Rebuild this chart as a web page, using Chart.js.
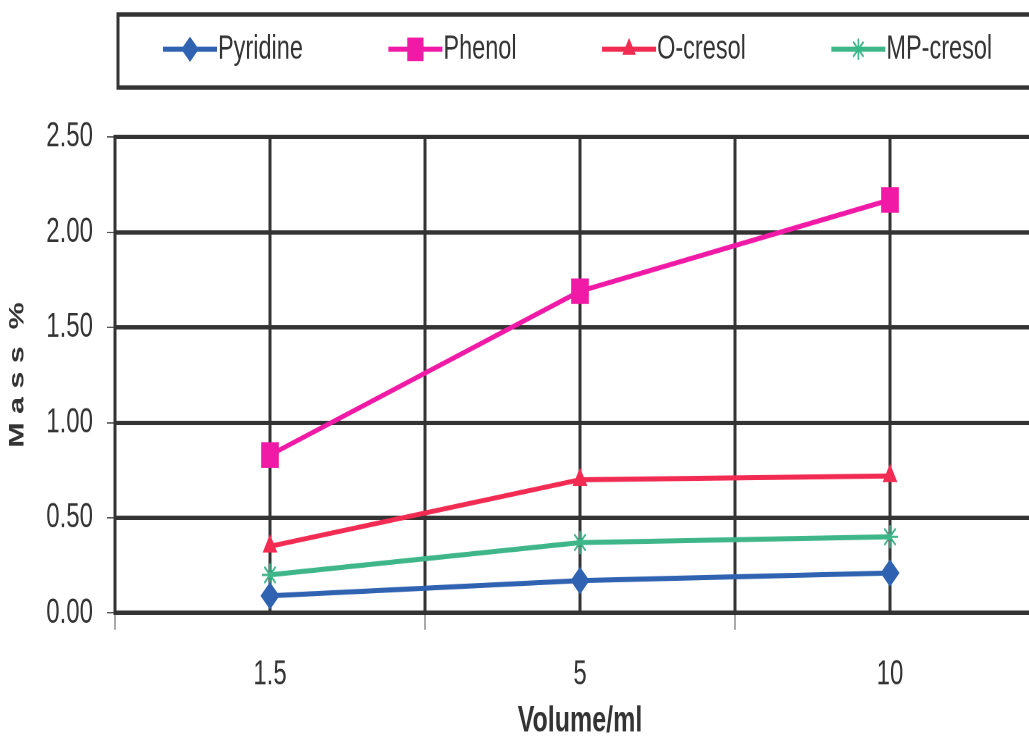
<!DOCTYPE html>
<html>
<head>
<meta charset="utf-8">
<script src="https://cdn.jsdelivr.net/npm/chart.js@4.4.1/dist/chart.umd.min.js"></script>
<style>
  html, body { margin: 0; padding: 0; background: #fff; overflow: hidden; width: 1029px; height: 743px; }
  /* chart is laid out at 1060x513 and stretched vertically to fill the page */
  #wrap { position: absolute; left: 0; top: 0; width: 1060px; height: 513px;
          transform: scaleY(1.44834); transform-origin: 0 0; }
</style>
</head>
<body>
<div id="wrap"><canvas id="c"></canvas></div>
<script>
// Volume of solvent (ml) on the category axis
const volumes = ['1.5', '5', '10'];

// Mass % extracted for each compound
const pyridine = [0.09, 0.17, 0.21];
const phenol   = [0.83, 1.69, 2.17];
const oCresol  = [0.35, 0.70, 0.72];
const mpCresol = [0.20, 0.37, 0.40];

// Value-axis tick positions
const yTicks = [0, 0.5, 1.0, 1.5, 2.0, 2.5];

const INK = '#333333';
const FONT = "'Liberation Sans', Arial, sans-serif";

const series = [
  { label: 'Pyridine',  data: pyridine, color: '#2f62b0', style: 'rectRot',  r: 9.5,  bw: 0 },
  { label: 'Phenol',    data: phenol,   color: '#f01aa6', style: 'rect',     r: 12.5, bw: 0 },
  { label: 'O-cresol',  data: oCresol,  color: '#f22b52', style: 'triangle', r: 8.5,  bw: 0 },
  { label: 'MP-cresol', data: mpCresol, color: '#3fb68a', style: 'star',     r: 8,    bw: 1.6 }
];

// Boxed legend across the top: line sample + marker + name
const boxLegend = {
  id: 'boxLegend',
  afterDraw(chart) {
    const ctx = chart.ctx;
    ctx.save();
    ctx.lineWidth = 3;
    ctx.strokeStyle = INK;
    ctx.strokeRect(118, 10, 1000, 50.4);

    ctx.font = '23.5px ' + FONT;
    ctx.textBaseline = 'middle';
    ctx.textAlign = 'left';
    const cy = 34;
    let x0 = 163;
    chart.data.datasets.forEach(ds => {
      ctx.strokeStyle = ds.borderColor;
      ctx.lineWidth = 3.5;
      ctx.beginPath();
      ctx.moveTo(x0, cy);
      ctx.lineTo(x0 + 54, cy);
      ctx.stroke();
      ctx.fillStyle = ds.borderColor;
      ctx.strokeStyle = ds.borderColor;
      ctx.lineWidth = ds.pointBorderWidth || 1;
      Chart.helpers.drawPoint(ctx, {
        pointStyle: ds.pointStyle,
        radius: ds.pointRadius * 0.92,
        borderWidth: ds.pointBorderWidth,
        rotation: 0
      }, x0 + 27, cy);
      ctx.fillStyle = INK;
      const tx = x0 + 55;
      ctx.fillText(ds.label, tx, cy);
      x0 = tx + ctx.measureText(ds.label).width + 85.5;
    });
    ctx.restore();
  }
};

new Chart(document.getElementById('c'), {
  type: 'line',
  data: {
    labels: volumes,
    datasets: series.map(s => ({
      label: s.label,
      data: s.data,
      borderColor: s.color,
      backgroundColor: s.color,
      borderWidth: 3.5,
      tension: 0,
      pointStyle: s.style,
      pointRadius: s.r,
      pointHoverRadius: s.r,
      pointBorderWidth: s.bw,
      pointBackgroundColor: s.color,
      pointBorderColor: s.color,
      xAxisID: 'x',
      yAxisID: 'y'
    }))
  },
  options: {
    responsive: true,
    maintainAspectRatio: false,
    animation: false,
    devicePixelRatio: 2,
    layout: { padding: { top: 94.6, right: 15, bottom: 0, left: 0 } },
    plugins: { legend: { display: false }, tooltip: { enabled: false } },
    scales: {
      // category boundaries: gridlines plus short tick marks under the axis
      x: {
        type: 'category',
        position: 'bottom',
        offset: true,
        grid: { offset: true, color: INK, lineWidth: 3, drawTicks: true, tickLength: 11.7,
                tickWidth: 1, tickColor: '#555' },
        border: { display: true, color: INK, width: 3 },
        ticks: { color: INK, font: { family: FONT, size: 24 }, padding: 16.7, maxRotation: 0 },
        title: { display: true, text: 'Volume/ml', color: INK,
                 font: { family: FONT, size: 25, weight: 'bold' }, padding: { top: 0, bottom: 0 } },
        afterFit(s) { s.height = 89.8; }
      },
      // category centres: gridlines only
      x2: {
        type: 'category',
        position: 'bottom',
        offset: true,
        grid: { offset: false, color: INK, lineWidth: 3, drawTicks: false },
        border: { display: false },
        ticks: { display: false },
        afterFit(s) { s.height = 0; }
      },
      y: {
        min: 0,
        max: 2.5,
        afterBuildTicks(s) { s.ticks = yTicks.map(v => ({ value: v })); },
        grid: { color: INK, lineWidth: 3, drawTicks: true, tickLength: 8, tickWidth: 1, tickColor: '#555' },
        border: { display: true, color: INK, width: 3 },
        ticks: { color: INK, font: { family: FONT, size: 24 }, padding: 14,
                 callback: v => Number(v).toFixed(2) },
        title: { display: true, text: 'M a s s  %', color: INK,
                 font: { family: FONT, size: 21, weight: 'bold' }, padding: { top: 5, bottom: 0 } },
        afterFit(s) { s.width = 115; }
      }
    }
  },
  plugins: [boxLegend]
});
</script>
</body>
</html>
